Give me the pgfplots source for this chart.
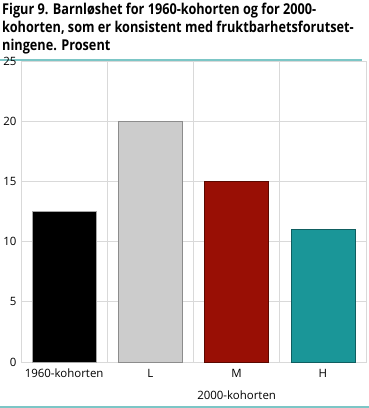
\documentclass[border=0pt]{standalone}
\usepackage{fontspec}
\setmainfont{Open Sans}
\newfontfamily\titlefont{Open Sans}[FakeStretch=0.85]
\usepackage{pgfplots}
\pgfplotsset{compat=1.18}
\definecolor{tealline}{HTML}{7CC6C6}
\definecolor{barred}{HTML}{990F05}
\definecolor{barredE}{HTML}{5A0800}
\definecolor{barteal}{HTML}{1A9698}
\definecolor{bartealE}{HTML}{0F5E60}
\definecolor{barlight}{HTML}{CCCCCC}
\definecolor{gridc}{HTML}{D9D9D9}
\begin{document}
\begin{tikzpicture}
\useasboundingbox (0bp,0bp) rectangle (369bp,408bp);
\node[anchor=north west, inner sep=0pt, align=left, font=\titlefont\bfseries\fontsize{15}{18}\selectfont] at (2bp,405bp)
{Figur 9. Barnløshet for 1960-kohorten og for 2000-\\kohorten, som er konsistent med fruktbarhetsforutset-\\ningene. Prosent};
\draw[tealline, line width=2.2bp] (0bp,348bp) -- (362bp,348bp);
\draw[tealline, line width=2bp] (0bp,1bp) -- (369bp,1bp);
\begin{axis}[
  at={(21bp,46bp)}, anchor=south west,
  scale only axis, width=345bp, height=301bp,
  xmin=-0.5, xmax=3.5, ymin=0, ymax=25,
  ytick={0,5,10,15,20,25},
  xtick={0,1,2,3}, xticklabels={1960-kohorten,L,M,H},
  extra x ticks={0.5,1.5,2.5}, extra x tick labels={},
  extra x tick style={grid=major, major tick length=0pt},
  ymajorgrids, grid style={gridc, line width=0.8bp},
  major tick length=0pt,
  axis line style={gridc, line width=0.8bp},
  tick label style={font=\fontsize{11.5}{13}\selectfont},
  /pgf/number format/assume math mode=true,
  yticklabel style={xshift=-1bp},
  xticklabel style={yshift=-3.5bp},
  ybar, bar width=64bp, bar shift=0pt,
  clip=false,
]
\addplot[fill=black, draw=gray!70] coordinates {(0,12.5)};
\addplot[fill=barlight, draw=gray!90] coordinates {(1,20)};
\addplot[fill=barred, draw=barredE] coordinates {(2,15)};
\addplot[fill=barteal, draw=bartealE] coordinates {(3,11)};
\node[anchor=north, inner sep=0pt, font=\fontsize{11.5}{13}\selectfont, yshift=-28.5bp] at (axis cs:2,0) {2000-kohorten};
\end{axis}
\end{tikzpicture}
\end{document}
